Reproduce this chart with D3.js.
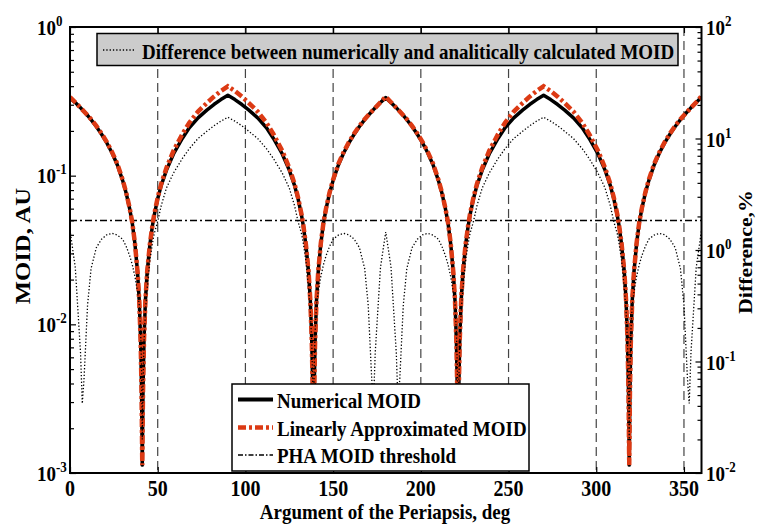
<!DOCTYPE html>
<html><head><meta charset="utf-8">
<script src="https://cdn.jsdelivr.net/npm/d3@7"></script>
<style>
body{margin:0;background:#fff;}
text{font-family:"Liberation Serif","Times New Roman",serif;font-weight:bold;fill:#000;}
</style>
</head><body>
<svg id="chart" width="758" height="527"></svg>
<script>
// ---------------- data ----------------
const angles = [0,3,6,7,8,10,12,15,18,21,24,27,30,32,34,35.5,37,38.5,39.5,40.3,40.8,41.2,41.6,42.2,43,44,45.5,47,48,50,52,55,59,64,68,73,78,82,86,90,
94,98,102,107,112,116,121,125,128,130,132,133,134.5,136,137,137.8,138.4,138.8,139.2,139.7,140.5,141.5,143,144.5,146,148,150,153,156,159,162,165,168,170,172,173,174,177,180,
183,186,187,188,190,192,195,198,201,204,207,210,212,214,215.5,217,218.5,219.5,220.3,220.8,221.2,221.6,222.2,223,224,225.5,227,228,230,232,235,239,244,248,253,258,262,266,270,
274,278,282,287,292,296,301,305,308,310,312,313,314.5,316,317,317.8,318.4,318.8,319.2,319.7,320.5,321.5,323,324.5,326,328,330,333,336,339,342,345,348,350,352,353,354,357,360];

const moidNumerical = [0.333,0.310,0.286,0.278,0.270,0.254,0.238,0.214,0.190,0.166,0.142,0.118,0.093,0.0765,0.060,0.048,0.035,0.0225,0.0143,0.0075,0.0035,0.00113,0.0035,0.0080,0.0145,0.0225,0.034,0.046,0.054,0.070,0.086,0.109,0.140,0.178,0.210,0.245,0.276,0.301,0.325,0.348,
0.325,0.301,0.276,0.245,0.210,0.178,0.140,0.109,0.086,0.070,0.054,0.046,0.034,0.0225,0.0145,0.0080,0.0035,0.00113,0.0035,0.0075,0.0143,0.0225,0.035,0.048,0.060,0.0765,0.093,0.118,0.142,0.166,0.190,0.214,0.238,0.254,0.270,0.278,0.286,0.310,0.335,
0.310,0.286,0.278,0.270,0.254,0.238,0.214,0.190,0.166,0.142,0.118,0.093,0.0765,0.060,0.048,0.035,0.0225,0.0143,0.0075,0.0035,0.00113,0.0035,0.0080,0.0145,0.0225,0.034,0.046,0.054,0.070,0.086,0.109,0.140,0.178,0.210,0.245,0.276,0.301,0.325,0.348,
0.325,0.301,0.276,0.245,0.210,0.178,0.140,0.109,0.086,0.070,0.054,0.046,0.034,0.0225,0.0145,0.0080,0.0035,0.00113,0.0035,0.0075,0.0143,0.0225,0.035,0.048,0.060,0.0765,0.093,0.118,0.142,0.166,0.190,0.214,0.238,0.254,0.270,0.278,0.286,0.310,0.338];

const moidLinear = [0.338,0.312,0.286,0.278,0.270,0.255,0.240,0.216,0.192,0.168,0.144,0.120,0.094,0.0773,0.0605,0.0484,0.0352,0.0226,0.0143,0.0075,0.0035,0.00113,0.0035,0.0080,0.0145,0.0226,0.0343,0.0465,0.0548,0.0713,0.0882,0.113,0.147,0.190,0.227,0.270,0.308,0.340,0.371,0.399,
0.371,0.340,0.308,0.270,0.227,0.190,0.147,0.113,0.0882,0.0713,0.0548,0.0465,0.0343,0.0226,0.0145,0.0080,0.0035,0.00113,0.0035,0.0075,0.0143,0.0226,0.0352,0.0484,0.0605,0.0773,0.094,0.120,0.144,0.168,0.192,0.216,0.240,0.255,0.270,0.278,0.286,0.312,0.340,
0.312,0.286,0.278,0.270,0.255,0.240,0.216,0.192,0.168,0.144,0.120,0.094,0.0773,0.0605,0.0484,0.0352,0.0226,0.0143,0.0075,0.0035,0.00113,0.0035,0.0080,0.0145,0.0226,0.0343,0.0465,0.0548,0.0713,0.0882,0.113,0.147,0.190,0.227,0.270,0.308,0.340,0.371,0.399,
0.371,0.340,0.308,0.270,0.227,0.190,0.147,0.113,0.0882,0.0713,0.0548,0.0465,0.0343,0.0226,0.0145,0.0080,0.0035,0.00113,0.0035,0.0075,0.0143,0.0226,0.0352,0.0484,0.0605,0.0773,0.094,0.120,0.144,0.168,0.192,0.216,0.240,0.255,0.270,0.278,0.286,0.312,0.343];

const differencePct = [1.50,0.70,0.12,0.042,0.07,0.32,0.68,1.05,1.25,1.37,1.41,1.36,1.25,1.08,0.89,0.74,0.58,0.42,0.32,0.18,0.09,0.02,0.06,0.15,0.28,0.45,0.80,1.15,1.40,1.80,2.50,3.60,4.90,6.60,8.10,10.0,11.6,13.0,14.3,15.5,
14.3,13.0,11.6,10.0,8.10,6.60,4.90,3.60,2.50,1.80,1.40,1.15,0.80,0.45,0.28,0.15,0.06,0.02,0.09,0.18,0.32,0.42,0.58,0.74,0.89,1.08,1.25,1.36,1.41,1.37,1.25,1.05,0.68,0.32,0.07,0.042,0.12,0.70,1.45,
0.70,0.12,0.042,0.07,0.32,0.68,1.05,1.25,1.37,1.41,1.36,1.25,1.08,0.89,0.74,0.58,0.42,0.32,0.18,0.09,0.02,0.06,0.15,0.28,0.45,0.80,1.15,1.40,1.80,2.50,3.60,4.90,6.60,8.10,10.0,11.6,13.0,14.3,15.5,
14.3,13.0,11.6,10.0,8.10,6.60,4.90,3.60,2.50,1.80,1.40,1.15,0.80,0.45,0.28,0.15,0.06,0.02,0.09,0.18,0.32,0.42,0.58,0.74,0.89,1.08,1.25,1.36,1.41,1.37,1.25,1.05,0.68,0.32,0.07,0.042,0.12,0.70,1.50];

const phaThreshold = 0.05;
const xTickValues = [0,50,100,150,200,250,300,350];
const gridAngles = [50,100,150,200,250,300,350];
const leftExponents = [0,-1,-2,-3];
const rightExponents = [2,1,0,-1,-2];
const xLabel = "Argument of the Periapsis, deg";
const yLeftLabel = "MOID, AU";
const yRightLabel = "Difference,%";
const topLegendLabel = "Difference between numerically and analitically calculated MOID";
const legendLabels = ["Numerical MOID","Linearly Approximated MOID","PHA MOID threshold"];

// ---------------- layout ----------------
const L = 70, R = 701.5, T = 27, B = 473;
const SY = 1.12; // vertical stretch of text in reference
const RED = "#dc3a14";

const svg = d3.select("#chart");
const x = d3.scaleLinear().domain([0,360]).range([L,R]);
const yL = d3.scaleLog().domain([1e-3,1]).range([B,T]);
const yR = d3.scaleLog().domain([1e-2,100]).range([B,T]);

svg.append("defs").append("clipPath").attr("id","plotclip")
  .append("rect").attr("x",L).attr("y",T).attr("width",R-L).attr("height",B-T);

function txt(parent, px, py, s, opts={}) {
  const size = opts.size || 19;
  const rot = opts.rotate ? ` rotate(${opts.rotate})` : "";
  return parent.append("text")
    .attr("transform", `translate(${px},${py}) scale(1,${SY})${rot}`)
    .attr("font-size", size)
    .attr("text-anchor", opts.anchor || "start")
    .text(s);
}
function powLabel(parent, px, py, exp) {
  const t = parent.append("text")
    .attr("transform", `translate(${px},${py}) scale(1,${SY})`)
    .attr("font-size", 19);
  t.append("tspan").text("10");
  t.append("tspan").attr("font-size", 13).attr("dy", -8).text(String(exp));
}

// grid lines
svg.append("g").selectAll("line").data(gridAngles).join("line")
  .attr("x1", d => x(d)).attr("x2", d => x(d)).attr("y1", T).attr("y2", B)
  .attr("stroke", "#444").attr("stroke-width", 1.2).attr("stroke-dasharray", "9,5");

const plot = svg.append("g").attr("clip-path","url(#plotclip)");

// PHA threshold
plot.append("line").attr("x1", x(0)).attr("x2", x(360))
  .attr("y1", yL(phaThreshold)).attr("y2", yL(phaThreshold))
  .attr("stroke","#000").attr("stroke-width",1.5).attr("stroke-dasharray","7,3,2,3");

const idx = d3.range(angles.length);
const lineNum = d3.line().x(i => x(angles[i])).y(i => yL(moidNumerical[i]));
const lineLin = d3.line().x(i => x(angles[i])).y(i => yL(moidLinear[i]));
const lineDiff = d3.line().x(i => x(angles[i])).y(i => yR(differencePct[i]));

plot.append("path").attr("d", lineNum(idx)).attr("fill","none")
  .attr("stroke","#000").attr("stroke-width",3.5).attr("stroke-linejoin","round");
plot.append("path").attr("d", lineLin(idx)).attr("fill","none")
  .attr("stroke",RED).attr("stroke-width",4.5).attr("stroke-dasharray","8,3,3,3");
plot.append("path").attr("d", lineDiff(idx)).attr("fill","none")
  .attr("stroke","#000").attr("stroke-width",1.3).attr("stroke-dasharray","1.3,2");

// axes ticks
function minorVals(lo, hi) {
  const v = [];
  for (let e = lo; e < hi; e++) for (let k = 2; k <= 9; k++) v.push(k * Math.pow(10, e));
  return v;
}
function styleAxis(g) { g.select(".domain").remove(); g.selectAll("line").attr("stroke","#000").attr("stroke-width",1.2); }

svg.append("g").attr("transform",`translate(${L},0)`)
  .call(d3.axisRight(yL).tickValues(minorVals(-3,0)).tickSize(4).tickFormat("")).call(styleAxis);
svg.append("g").attr("transform",`translate(${L},0)`)
  .call(d3.axisRight(yL).tickValues(leftExponents.map(e=>Math.pow(10,e))).tickSize(6).tickFormat("")).call(styleAxis);
svg.append("g").attr("transform",`translate(${R},0)`)
  .call(d3.axisLeft(yR).tickValues(minorVals(-2,2)).tickSize(4).tickFormat("")).call(styleAxis);
svg.append("g").attr("transform",`translate(${R},0)`)
  .call(d3.axisLeft(yR).tickValues(rightExponents.map(e=>Math.pow(10,e))).tickSize(6).tickFormat("")).call(styleAxis);
svg.append("g").attr("transform",`translate(0,${B})`)
  .call(d3.axisTop(x).tickValues(xTickValues).tickSize(6).tickFormat("")).call(styleAxis);
svg.append("g").attr("transform",`translate(0,${T})`)
  .call(d3.axisBottom(x).tickValues(xTickValues).tickSize(6).tickFormat("")).call(styleAxis);

// frame
svg.append("rect").attr("x",L).attr("y",T).attr("width",R-L).attr("height",B-T)
  .attr("fill","none").attr("stroke","#000").attr("stroke-width",2);

// tick labels
leftExponents.forEach(e => powLabel(svg, 37, yL(Math.pow(10,e)) + 7.5, e));
rightExponents.forEach(e => powLabel(svg, 706, yR(Math.pow(10,e)) + 8, e));
xTickValues.forEach(v => txt(svg, x(v), 496, String(v), {anchor:"middle", size:20}));

// axis titles
txt(svg, 385, 519, xLabel, {anchor:"middle"});
txt(svg, 30, 246, yLeftLabel, {anchor:"middle", rotate:-90, size:22});
txt(svg, 752, 252, yRightLabel, {anchor:"middle", rotate:-90, size:19.5});

// top legend
svg.append("rect").attr("x",97).attr("y",33.5).attr("width",581).attr("height",32)
  .attr("fill","#cccccc").attr("stroke","#000").attr("stroke-width",1.5);
svg.append("line").attr("x1",103).attr("x2",136).attr("y1",50).attr("y2",50)
  .attr("stroke","#000").attr("stroke-width",1.3).attr("stroke-dasharray","1.3,2");
txt(svg, 142, 58.5, topLegendLabel);

// bottom legend
const lg = svg.append("g");
lg.append("rect").attr("x",232).attr("y",384).attr("width",297).attr("height",87)
  .attr("fill","#fff").attr("stroke","#000").attr("stroke-width",1.5);
const rowsY = [399.5, 427.5, 455];
const rowStyles = [
  {stroke:"#000", w:4, dash:null},
  {stroke:RED, w:4.5, dash:"8,3,3,3"},
  {stroke:"#000", w:1.5, dash:"5,2,1.5,2"}
];
rowsY.forEach((yy,i) => {
  const s = rowStyles[i];
  const ln = lg.append("line").attr("x1",238).attr("x2",273).attr("y1",yy).attr("y2",yy)
    .attr("stroke",s.stroke).attr("stroke-width",s.w);
  if (s.dash) ln.attr("stroke-dasharray", s.dash);
  txt(lg, 277, yy + 8, legendLabels[i]);
});
</script>
</body></html>
